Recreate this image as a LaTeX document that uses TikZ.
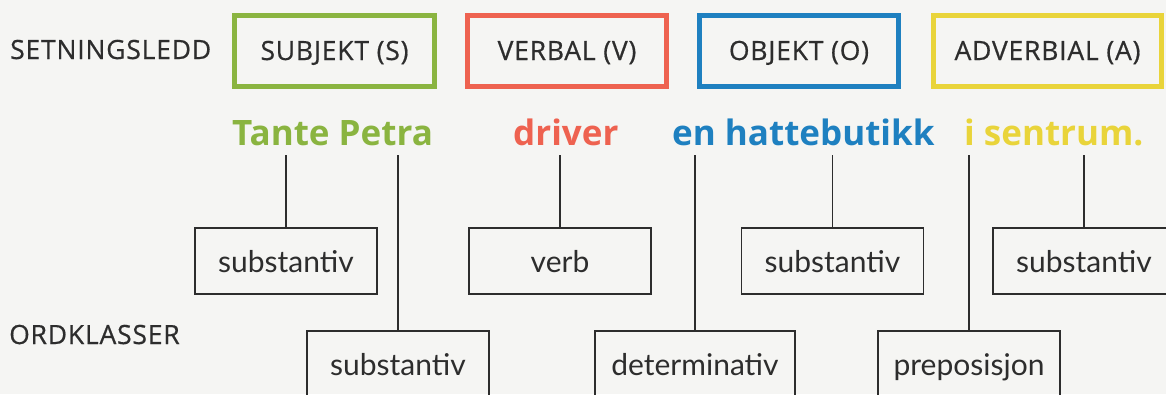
\documentclass[tikz,border=0pt]{standalone}
\usepackage{fontspec}
\setmainfont{Lato}
\newfontfamily\capsfont{Open Sans}[LetterSpace=3,FakeBold=0.6]
\newfontfamily\wordfont{Open Sans}
\usetikzlibrary{positioning}

\definecolor{paper}{RGB}{245,245,243}
\definecolor{ink}{RGB}{45,45,45}
\definecolor{ledgreen}{RGB}{138,180,64}
\definecolor{ledred}{RGB}{238,98,80}
\definecolor{ledblue}{RGB}{30,128,192}
\definecolor{ledyellow}{RGB}{233,212,58}

\begin{document}
\begin{tikzpicture}[
    x=1pt,y=-1pt,
    heading/.style={anchor=base west,inner sep=0pt,text=ink,
        font=\capsfont\fontsize{26.5}{30}\selectfont},
    role/.style={draw=#1,line width=5pt,minimum height=71pt,inner sep=0pt,
        text height=18pt,text depth=0pt,text=ink,
        font=\capsfont\fontsize{26.5}{30}\selectfont},
    word/.style={anchor=base west,inner sep=0pt,text depth=10pt,
        font=\wordfont\fontsize{35}{40}\selectfont\bfseries},
    wclass/.style={draw=ink,line width=1.4pt,minimum width=182pt,minimum height=66pt,
        inner sep=0pt,text height=22pt,text depth=0pt,text=ink,
        font=\fontsize{30}{34}\selectfont},
    link/.style={draw=ink,line width=1.4pt},
]
\fill[paper] (0,0) rectangle (1166,394);
\useasboundingbox (0,0) rectangle (1166,394);
\clip (0,0) rectangle (1166,394);

% Row labels
\node[heading] (ledd) at (10,59) {SETNINGSLEDD};
\node[heading] (klasser) at (9,344) {ORDKLASSER};

% Sentence parts
\node[role=ledgreen,minimum width=200pt] (subj) at (334.5,51) {SUBJEKT (S)};
\node[role=ledred,minimum width=199pt] (verbal) at (567,51) {VERBAL (V)};
\node[role=ledblue,minimum width=199pt] (obj) at (799,51) {OBJEKT (O)};
\node[role=ledyellow,minimum width=228pt] (adv) at (1047.5,51) {ADVERBIAL (A)};

% The sentence
\node[word,text=ledgreen] (tante) at (232,145) {Tante Petra};
\node[word,text=ledred] (driver) at (513,145) {driver};
\node[word,text=ledblue] (hatt) at (672,145) {en hattebutikk};
\node[word,text=ledyellow] (sentrum) at (964,145) {i sentrum.};

% Word classes
\node[wclass] (subst1) at (286,261) {substantiv};
\node[wclass] (verb) at (560,261) {verb};
\node[wclass] (subst2) at (832.5,261) {substantiv};
\node[wclass] (subst3) at (1084,261) {substantiv};
\node[wclass] (subst4) at (398,364) {substantiv};
\node[wclass,minimum width=200pt] (determ) at (695,364) {determinativ};
\node[wclass] (prep) at (969,364) {preposisjon};

% Connectors
\draw[link] (subst1.north) -- (subst1.north |- tante.south);
\draw[link] (subst4.north) -- (subst4.north |- tante.south);
\draw[link] (verb.north) -- (verb.north |- driver.south);
\draw[link] (determ.north) -- (determ.north |- hatt.south);
\draw[link] (subst2.north) -- (subst2.north |- hatt.south);
\draw[link] (prep.north) -- (prep.north |- sentrum.south);
\draw[link] (subst3.north) -- (subst3.north |- sentrum.south);
\end{tikzpicture}
\end{document}
